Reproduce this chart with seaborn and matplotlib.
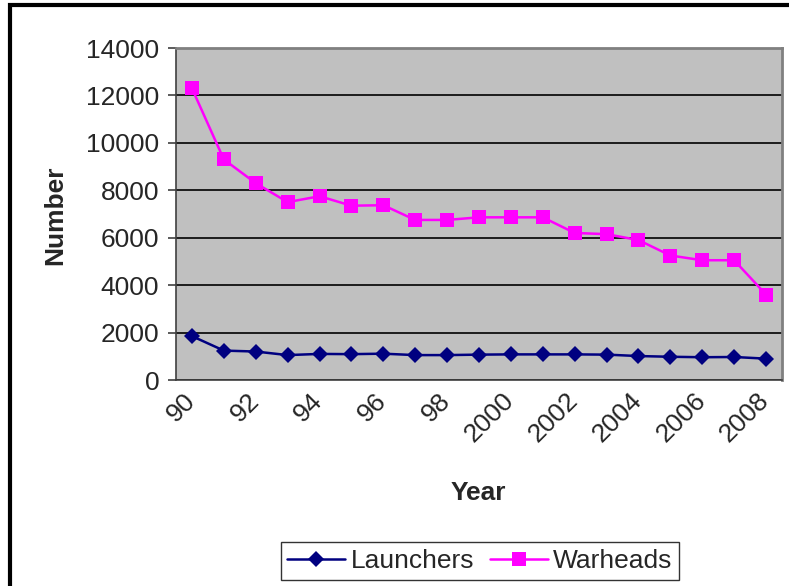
import pandas as pd
import matplotlib
matplotlib.use("Agg")
import matplotlib.pyplot as plt
from matplotlib.patches import Rectangle
from matplotlib.transforms import ScaledTranslation
import seaborn as sns

# Values
years = ["90", "91", "92", "93", "94", "95", "96", "97", "98", "99",
         "2000", "2001", "2002", "2003", "2004", "2005", "2006", "2007", "2008"]
launchers = [1850, 1240, 1200, 1050, 1100, 1090, 1110, 1050, 1050, 1070,
             1080, 1080, 1080, 1070, 1010, 980, 960, 970, 900]
warheads = [12300, 9300, 8300, 7500, 7750, 7350, 7370, 6750, 6750, 6860,
            6860, 6860, 6200, 6150, 5900, 5250, 5050, 5050, 3600]

df = pd.DataFrame({"pos": range(len(years)), "Launchers": launchers, "Warheads": warheads})
long_df = df.melt(id_vars="pos", var_name="series", value_name="value")

sns.set_style("white")
plt.rcParams["font.family"] = ["Liberation Sans", "DejaVu Sans"]

fig = plt.figure(figsize=(7.89, 5.86), dpi=100)
ax = fig.add_axes([176 / 789, 1 - 380 / 586, (782 - 176) / 789, (380 - 48) / 586])
ax.set_facecolor("#C0C0C0")

sns.lineplot(data=long_df, x="pos", y="value", hue="series", style="series",
             palette={"Launchers": "#000080", "Warheads": "#FF00FF"},
             markers={"Launchers": "D", "Warheads": "s"},
             dashes=False, linewidth=1.8, markersize=10, markeredgewidth=0,
             ax=ax, legend=False)
# diamonds a bit smaller
ax.lines[0].set_markersize(8.5)

ax.set_xlim(-0.5, len(years) - 0.5)
ax.set_ylim(0, 14000)
ax.set_yticks(range(0, 14001, 2000))
ax.set_yticklabels([str(v) for v in range(0, 14001, 2000)], fontsize=19)
ax.grid(axis="y", color="black", linewidth=1.2)
ax.set_axisbelow(True)

ax.set_xticks(range(0, len(years), 2))
ax.set_xticklabels(years[::2], rotation=45, ha="right", rotation_mode="anchor", fontsize=19)
ax.set_xticks([i - 0.5 for i in range(len(years) + 1)], minor=True)
ax.tick_params(axis="x", which="major", length=0, pad=6)
ax.tick_params(axis="x", which="minor", length=6, width=1.2, color="#404040", direction="out")
ax.tick_params(axis="y", length=6, width=1.2, color="#404040", direction="out", left=True, pad=6)
shift = ScaledTranslation(-9 / 100, 0, fig.dpi_scale_trans)
for lbl in ax.get_xticklabels():
    lbl.set_transform(lbl.get_transform() + shift)

for side in ["top", "right"]:
    ax.spines[side].set_color("#808080")
    ax.spines[side].set_linewidth(2)
for side in ["left", "bottom"]:
    ax.spines[side].set_color("#404040")
    ax.spines[side].set_linewidth(1.2)

ax.set_xlabel("")
ax.set_ylabel("")
fig.text(55 / 789, 1 - 215 / 586, "Number", rotation=90, fontsize=19, fontweight="bold",
         ha="center", va="center")
fig.text(478 / 789, 1 - 493 / 586, "Year", fontsize=19, fontweight="bold",
         ha="center", va="center")

handles = [ax.lines[0], ax.lines[1]]
leg = fig.legend(handles, ["Launchers", "Warheads"], loc="center", ncol=2,
                 bbox_to_anchor=(480 / 789, 1 - 561 / 586), fontsize=19,
                 frameon=True, fancybox=False, edgecolor="black",
                 handlelength=2.2, handletextpad=0.2, columnspacing=0.6,
                 borderpad=0.25)
leg.get_frame().set_linewidth(1)

# outer chart border (cut off at right and bottom)
fig.patches.append(Rectangle((10 / 789, -0.1), 1.2, 1.1 - 5 / 586, transform=fig.transFigure,
                             fill=False, edgecolor="black", linewidth=3))

fig.savefig("out.png", dpi=100)
